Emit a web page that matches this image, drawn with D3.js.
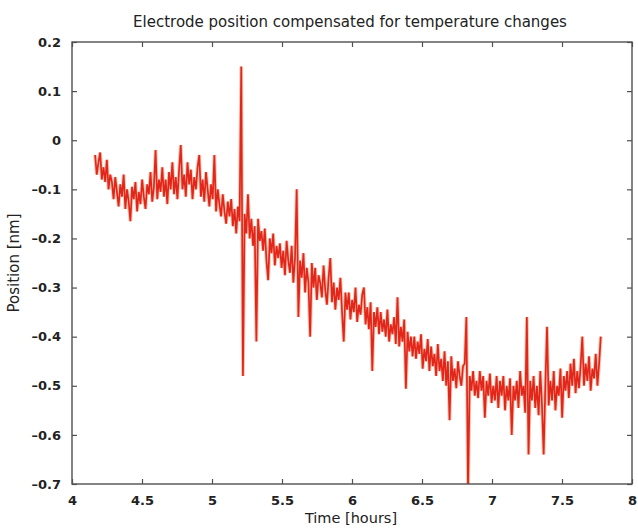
<!DOCTYPE html>
<html>
<head>
<meta charset="utf-8">
<script src="https://cdn.jsdelivr.net/npm/d3@7"></script>
<style>
  body { margin: 0; background: #fff; }
  text { font-family: "DejaVu Sans", sans-serif; fill: #222; }
</style>
</head>
<body>
<svg id="chart" width="638" height="529"></svg>
<script>
var title = 'Electrode position compensated for temperature changes';
var xLabel = 'Time [hours]';
var yLabel = 'Position [nm]';

var xTicks = [4, 4.5, 5, 5.5, 6, 6.5, 7, 7.5, 8];
var yTicks = [0.2, 0.1, 0, -0.1, -0.2, -0.3, -0.4, -0.5, -0.6, -0.7];

// sampling grid of the recording (hours)
var sampleStart = 4.165, sampleStep = 0.012;

// position [nm], one row per 10 samples
var position = [
  -0.03, -0.07, -0.045, -0.025, -0.08, -0.055, -0.085, -0.04, -0.1, -0.07,
  -0.085, -0.12, -0.075, -0.105, -0.135, -0.09, -0.115, -0.07, -0.14, -0.1,
  -0.125, -0.165, -0.095, -0.12, -0.085, -0.145, -0.105, -0.13, -0.08, -0.115,
  -0.14, -0.09, -0.11, -0.065, -0.125, -0.095, -0.02, -0.12, -0.08, -0.105,
  -0.055, -0.115, -0.08, -0.13, -0.065, -0.1, -0.045, -0.11, -0.075, -0.12,
  -0.06, -0.01, -0.1, -0.07, -0.115, -0.045, -0.09, -0.06, -0.12, -0.075,
  -0.1, -0.055, -0.03, -0.115, -0.08, -0.125, -0.065, -0.1, -0.135, -0.09,
  -0.12, -0.03, -0.145, -0.1, -0.13, -0.155, -0.11, -0.145, -0.17, -0.125,
  -0.155, -0.12, -0.175, -0.14, -0.19, -0.135, -0.165, 0.15, -0.48, -0.15,
  -0.19, -0.11, -0.2, -0.16, -0.215, -0.175, -0.41, -0.16, -0.205, -0.185,
  -0.225, -0.18, -0.245, -0.285, -0.2, -0.23, -0.19, -0.255, -0.215, -0.24,
  -0.21, -0.26, -0.225, -0.275, -0.205, -0.245, -0.27, -0.215, -0.29, -0.24,
  -0.10, -0.36, -0.245, -0.28, -0.23, -0.31, -0.26, -0.29, -0.4, -0.25,
  -0.3, -0.26, -0.325, -0.275, -0.29, -0.32, -0.255, -0.305, -0.335, -0.28,
  -0.24, -0.33, -0.29, -0.345, -0.3, -0.325, -0.28, -0.35, -0.41, -0.31,
  -0.345, -0.31, -0.365, -0.325, -0.35, -0.3, -0.37, -0.335, -0.355, -0.315,
  -0.30, -0.375, -0.34, -0.385, -0.33, -0.47, -0.35, -0.38, -0.34, -0.395,
  -0.35, -0.39, -0.365, -0.4, -0.345, -0.41, -0.375, -0.395, -0.36, -0.415,
  -0.32, -0.42, -0.38, -0.41, -0.365, -0.506, -0.39, -0.43, -0.4, -0.44,
  -0.4, -0.445, -0.41, -0.435, -0.395, -0.465, -0.425, -0.45, -0.405, -0.47,
  -0.42, -0.46, -0.435, -0.48, -0.415, -0.47, -0.445, -0.49, -0.43, -0.5,
  -0.45, -0.57, -0.44, -0.49, -0.465, -0.505, -0.45, -0.48, -0.5, -0.46,
  -0.455, -0.36, -0.72, -0.48, -0.51, -0.47, -0.52, -0.49, -0.525, -0.47,
  -0.51, -0.48, -0.565, -0.49, -0.52, -0.475, -0.535, -0.5, -0.53, -0.48,
  -0.545, -0.49, -0.52, -0.48, -0.55, -0.5, -0.53, -0.485, -0.6, -0.5,
  -0.53, -0.49, -0.545, -0.47, -0.52, -0.5, -0.555, -0.36, -0.64, -0.49,
  -0.53, -0.48, -0.545, -0.5, -0.56, -0.47, -0.54, -0.64, -0.5, -0.38,
  -0.54, -0.49, -0.53, -0.47, -0.55, -0.5, -0.52, -0.465, -0.565, -0.48,
  -0.51, -0.47, -0.525, -0.455, -0.5, -0.445, -0.515, -0.47, -0.505, -0.46,
  -0.40, -0.5, -0.455, -0.49, -0.44, -0.51, -0.465, -0.485, -0.435, -0.5, -0.455, -0.40
];

var svg = d3.select('#chart');
var plotLeft = 72, plotRight = 632, plotTop = 42, plotBottom = 484;

var x = d3.scaleLinear().domain([4, 8]).range([plotLeft, plotRight]);
var y = d3.scaleLinear().domain([-0.7, 0.2]).range([plotBottom, plotTop]);

var fmt = d => (d < 0 ? '\u2013' : '') + Math.abs(d);

svg.append('clipPath').attr('id', 'plotclip')
  .append('rect')
    .attr('x', plotLeft).attr('y', plotTop)
    .attr('width', plotRight - plotLeft).attr('height', plotBottom - plotTop);

var line = d3.line()
  .x((d, i) => x(sampleStart + i * sampleStep))
  .y(d => y(d));

var trace = svg.append('g').attr('clip-path', 'url(#plotclip)');

// soft orange fringe, then the red trace on top
trace.append('path')
    .datum(position)
    .attr('d', line)
    .attr('fill', 'none')
    .attr('stroke', '#f08a66')
    .attr('stroke-opacity', 0.5)
    .attr('stroke-width', 3.6);

trace.append('path')
    .datum(position)
    .attr('d', line)
    .attr('fill', 'none')
    .attr('stroke', '#e3261a')
    .attr('stroke-width', 1.7);

// MATLAB-style box with inward ticks on all four sides
var frame = '#505050';
svg.append('rect')
    .attr('x', plotLeft).attr('y', plotTop)
    .attr('width', plotRight - plotLeft).attr('height', plotBottom - plotTop)
    .attr('fill', 'none')
    .attr('stroke', frame)
    .attr('stroke-width', 1.4);

var axBottom = svg.append('g')
    .attr('transform', `translate(0,${plotBottom})`)
    .call(d3.axisBottom(x).tickValues(xTicks).tickSize(-5).tickPadding(12).tickFormat(fmt));
var axTop = svg.append('g')
    .attr('transform', `translate(0,${plotTop})`)
    .call(d3.axisTop(x).tickValues(xTicks).tickSize(-5).tickFormat(''));
var axLeft = svg.append('g')
    .attr('transform', `translate(${plotLeft},0)`)
    .call(d3.axisLeft(y).tickValues(yTicks).tickSize(-5).tickPadding(11).tickFormat(fmt));
var axRight = svg.append('g')
    .attr('transform', `translate(${plotRight},0)`)
    .call(d3.axisRight(y).tickValues(yTicks).tickSize(-5).tickFormat(''));

[axBottom, axTop, axLeft, axRight].forEach(g => {
  g.select('.domain').remove();
  g.selectAll('.tick line').attr('stroke', frame).attr('stroke-width', 1.2);
  g.selectAll('.tick text')
    .attr('fill', '#222')
    .style('font-family', '"DejaVu Sans", sans-serif')
    .style('font-size', '13px')
    .style('font-weight', 'bold');
});

svg.append('text')
    .attr('x', (plotLeft + plotRight) / 2 - 2)
    .attr('y', 27)
    .attr('text-anchor', 'middle')
    .style('font-size', '15px')
    .text(title);

svg.append('text')
    .attr('x', 351)
    .attr('y', 523)
    .attr('text-anchor', 'middle')
    .style('font-size', '14.5px')
    .text(xLabel);

svg.append('text')
    .attr('transform', `translate(19,${(plotTop + plotBottom) / 2}) rotate(-90)`)
    .attr('text-anchor', 'middle')
    .style('font-size', '15px')
    .text(yLabel);
</script>
</body>
</html>
